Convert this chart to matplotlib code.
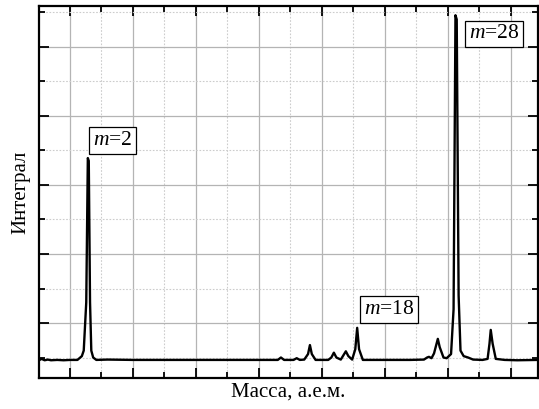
import matplotlib
matplotlib.use("Agg")
import matplotlib.pyplot as plt
from matplotlib.ticker import MultipleLocator

# Spectrum trace (arbitrary units; x in grid divisions, y in grid divisions)
trace_x = [-0.49, -0.45, -0.40, -0.35, -0.30, -0.20, -0.10, 0.00, 0.12, 0.19, 0.22,
           0.26, 0.285, 0.30, 0.32, 0.34, 0.37, 0.42, 0.60, 1.00, 1.40, 2.00, 2.60,
           3.00, 3.30, 3.35, 3.40, 3.45, 3.55, 3.60, 3.65, 3.72, 3.78, 3.81, 3.84,
           3.90, 4.10, 4.15, 4.19, 4.23, 4.30, 4.34, 4.38, 4.42, 4.48, 4.53, 4.56,
           4.59, 4.65, 5.00, 5.40, 5.62, 5.67, 5.70, 5.74, 5.78, 5.82, 5.84, 5.87,
           5.93, 5.98, 6.05, 6.09, 6.12, 6.14, 6.17, 6.20, 6.25, 6.32, 6.40, 6.55,
           6.63, 6.66, 6.68, 6.71, 6.76, 6.90, 7.10, 7.43]
trace_y = [0.46, 0.48, 0.46, 0.47, 0.46, 0.465, 0.46, 0.465, 0.465, 0.52, 0.60,
           1.30, 3.39, 3.35, 1.30, 0.60, 0.50, 0.465, 0.47, 0.465, 0.465, 0.465, 0.465,
           0.465, 0.465, 0.50, 0.465, 0.465, 0.465, 0.49, 0.465, 0.47, 0.55, 0.68, 0.55,
           0.465, 0.465, 0.50, 0.57, 0.50, 0.47, 0.53, 0.59, 0.52, 0.47, 0.62, 0.93,
           0.62, 0.465, 0.465, 0.465, 0.47, 0.50, 0.51, 0.49, 0.56, 0.70, 0.77, 0.65,
           0.50, 0.49, 0.55, 1.20, 5.46, 5.40, 1.40, 0.60, 0.52, 0.50, 0.47, 0.465,
           0.48, 0.70, 0.90, 0.70, 0.48, 0.465, 0.46, 0.465]

labels = ["m=2", "m=18", "m=28"]
label_x = [0.68, 5.07, 6.73]
label_y = [3.64, 1.20, 5.19]

x_label = "Масса, а.е.м."
y_label = "Интеграл"

plt.rcParams['font.family'] = ['Liberation Serif', 'DejaVu Serif']
plt.rcParams['mathtext.fontset'] = 'custom'
plt.rcParams['mathtext.it'] = 'Liberation Serif:italic'
plt.rcParams['mathtext.rm'] = 'Liberation Serif'

fig = plt.figure(figsize=(5.39, 4.09), dpi=100)
ax = fig.add_axes([39/539, 31/409, 499/539, 372/409])

ax.plot(trace_x, trace_y, color='black', lw=1.7, zorder=3)

ax.set_xlim(-0.49, 7.43)
ax.set_ylim(0.203, 5.594)

ax.xaxis.set_major_locator(MultipleLocator(1))
ax.xaxis.set_minor_locator(MultipleLocator(0.5))
ax.yaxis.set_major_locator(MultipleLocator(1))
ax.yaxis.set_minor_locator(MultipleLocator(0.5))

ax.grid(True, which='major', color='#b4b4b4', lw=0.9, ls='-')
ax.grid(True, which='minor', color='#cccccc', lw=0.8, ls=(0, (1.5, 1.5)))
ax.set_axisbelow(True)

ax.tick_params(which='both', direction='in', top=True, right=True,
               labelbottom=False, labelleft=False, width=1.3, color='black')
ax.tick_params(which='major', length=7)
ax.tick_params(which='minor', length=4)

for s in ax.spines.values():
    s.set_linewidth(1.6)

for t, x, y in zip(labels, label_x, label_y):
    name, num = t.split("=")
    ax.text(x, y, r"$\mathit{" + name + r"}$=" + num, fontsize=15.5,
            ha='center', va='center', zorder=4,
            bbox=dict(boxstyle='square,pad=0.18', fc='white', ec='black', lw=0.9))

ax.set_xlabel(x_label, fontsize=15, labelpad=3)
ax.set_ylabel(y_label, fontsize=15, labelpad=6)

fig.savefig("out.png", dpi=100)
